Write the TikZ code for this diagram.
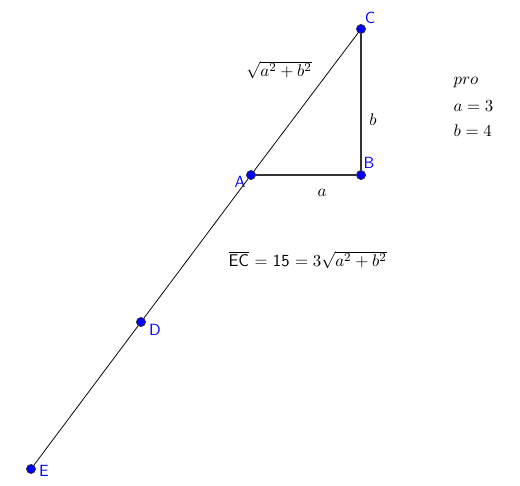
\documentclass[tikz,border=0pt]{standalone}
\usepackage{amsmath,amssymb}
\usetikzlibrary{positioning}

\begin{document}
\begin{tikzpicture}[x = 0.65pt, y = -0.65pt, % pixel grid, y downwards
                semithick, % line style
                every node/.style = {font = \fontsize{11}{13}\selectfont},
                pt/.style = {draw = black!80, fill = blue, circle, inner sep = 0pt,
                minimum size = 5.8pt, thin},
                lbl/.style = {text = blue, font = \sffamily\fontsize{10.5}{12}\selectfont, inner sep = 1pt},
                side/.style = {draw = black!80, line width = 1pt}
            ]

            \useasboundingbox (0,0) rectangle (520,485);

            % points
            \node[pt] (C) at (361,29) {}; \node[pt] (B) at (361,175) {};
            \node[pt] (A) at (251,175) {}; \node[pt] (D) at (141,322) {};
            \node[pt] (E) at (31,469) {};

            % sides
            \path[side] (A) edge (B); \path[side] (B) edge (C);
            \draw[black, line width = 0.5pt] (E) -- (D) -- (A) -- (C);
            \node[pt] at (C) {}; \node[pt] at (B) {}; \node[pt] at (A) {};
            \node[pt] at (D) {}; \node[pt] at (E) {};

            % point labels
            \node[lbl] (lC) at (370,18) {C}; \node[lbl] (lB) at (369,163) {B};
            \node[lbl] (lA) at (240,182) {A}; \node[lbl] (lD) at (155,330) {D};
            \node[lbl] (lE) at (44,471) {E};

            % side labels
            \node (hyp) at (279,70) {$\sqrt{a^2+b^2}$};
            \node (sb) at (373,120) {$b$}; \node (sa) at (322,193) {$a$};

            % data
            \node[anchor = west] (pro) at (448,83) {$pro$};
            \node[below = 1pt of pro.south west, anchor = north west] (va) {$a=3$};
            \node[below = 1pt of va.south west, anchor = north west] (vb) {$b=4$};

            \node[anchor = west] (res) at (223,260)
            {\textsf{$\overline{\text{\textsf{EC}}}$ = 15} $=3\sqrt{a^2+b^2}$};
        \end{tikzpicture}
\end{document}
